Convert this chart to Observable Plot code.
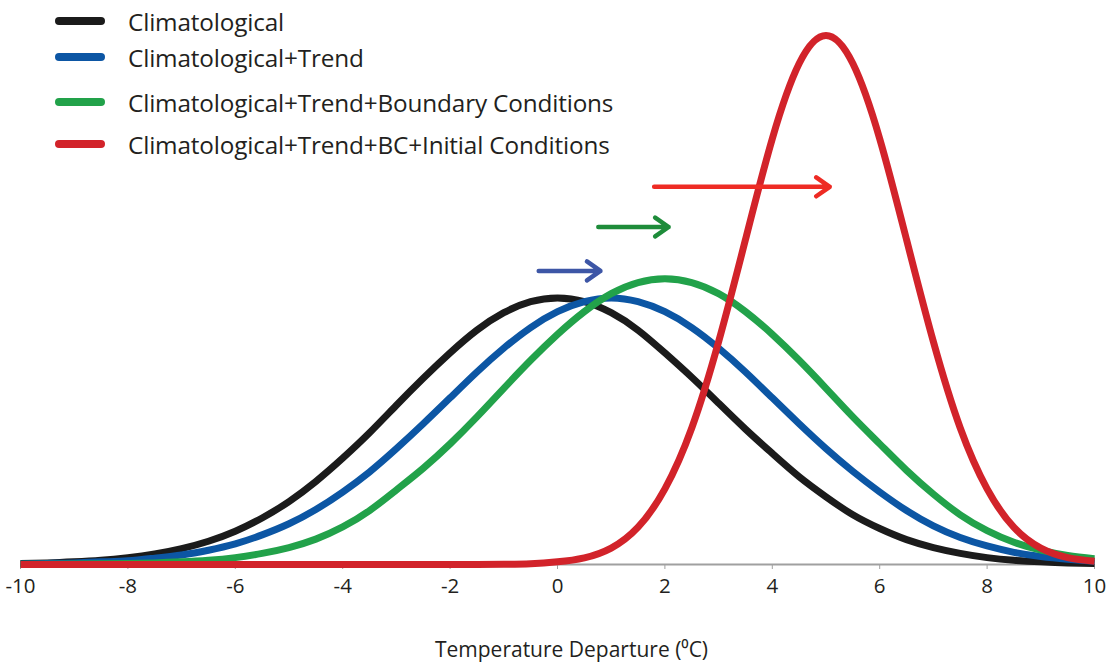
<!DOCTYPE html>
<html>
<head>
<meta charset="utf-8">
<script src="https://cdn.jsdelivr.net/npm/d3@7"></script>
<script src="https://cdn.jsdelivr.net/npm/@observablehq/plot@0.6"></script>
<style>
  body { margin: 0; background: #fff; font-family: "Open Sans", sans-serif; }
  #wrap { position: relative; width: 1112px; height: 664px; }
  .row { position: absolute; left: 55px; display: flex; align-items: center; height: 30px; white-space: nowrap; }
  .sw { width: 50px; height: 8px; border-radius: 4px; }
  .lab { margin-left: 23px; font-size: 24.3px; color: #231f20; letter-spacing: -0.15px; }
</style>
</head>
<body>
<div id="wrap"></div>
<script>
// ---- data ----
const temps = [-10,-9.5,-9,-8.5,-8,-7.5,-7,-6.5,-6,-5.5,-5,-4.5,-4,-3.5,-3,-2.5,-2,-1.5,-1,-0.5,
               0,0.5,1,1.5,2,2.5,3,3.5,4,4.5,5,5.5,6,6.5,7,7.5,8,8.5,9,9.5,10];
const climatological = [0.2,0.3,0.5,0.8,1.3,2.0,3.0,4.4,6.3,8.8,11.9,15.7,20.1,24.9,30.1,35.2,40.0,44.3,47.6,49.7,
                        50.4,49.7,47.6,44.3,40.0,35.4,30.5,25.6,21.0,16.6,12.8,9.4,6.8,4.7,3.2,2.1,1.3,0.8,0.5,0.3,0.2];
const withTrend = [0.1,0.2,0.3,0.5,0.7,1.2,1.8,2.7,3.9,5.6,7.7,10.4,13.7,17.5,21.9,26.6,31.5,36.4,40.9,44.8,
                   47.8,49.7,50.4,49.7,47.8,44.8,40.9,36.4,31.5,26.6,21.9,17.6,13.7,10.2,7.3,5.1,3.5,2.3,1.5,1.0,0.6];
const withBoundary = [0.03,0.05,0.08,0.13,0.2,0.3,0.5,0.8,1.3,2.1,3.2,4.8,7.1,10.2,14.1,18.2,22.8,27.9,33.3,38.6,
                      43.5,47.8,51.2,53.3,54.0,53.3,51.2,47.8,43.5,38.6,33.3,27.9,22.8,17.8,13.3,9.4,6.4,4.2,2.7,1.7,1.1];
const withInitial = [0,0,0,0,0,0,0,0,0,0,0,0,0,0,0,0,0,0.01,0.04,0.14,
                     0.5,1.25,3.1,7.05,14.3,25.8,42.1,61.4,80.5,94.7,100,94.7,80.5,61.4,42.1,25.8,14.3,7.0,3.1,1.3,0.6];

const seriesNames = ["Climatological","Climatological+Trend","Climatological+Trend+Boundary Conditions","Climatological+Trend+BC+Initial Conditions"];
const seriesColors = ["#1b1b1b","#0c56a4","#22a24a","#d2232a"];
const seriesValues = [climatological, withTrend, withBoundary, withInitial];

const arrowFrom = [-0.35, 0.76, 1.8];
const arrowTo = [0.8, 2.07, 5.07];
const arrowLevel = [55.5, 63.8, 71.4];
const arrowColors = ["#3d56a6","#1e8c3a","#ee2b24"];

const xTicks = [-10,-8,-6,-4,-2,0,2,4,6,8,10];
const xTitle = "Temperature Departure (\u2070C)";

// ---- build tables ----
const rows = [];
seriesNames.forEach((name, i) => {
  temps.forEach((t, j) => rows.push({series: name, t, v: seriesValues[i][j]}));
});
const arrows = arrowFrom.map((a, i) => ({x1: a, x2: arrowTo[i], y: arrowLevel[i], c: arrowColors[i]}));

const chart = Plot.plot({
  width: 1112,
  height: 664,
  marginTop: 35,
  marginBottom: 100,
  marginLeft: 20,
  marginRight: 18,
  style: {fontFamily: "Open Sans", background: "#fff"},
  x: {domain: [-10, 10]},
  y: {domain: [0, 100], axis: null},
  color: {domain: seriesNames, range: seriesColors},
  marks: [
    Plot.ruleY([0], {stroke: "#a0a0a0", strokeWidth: 2}),
    Plot.axisX({ticks: xTicks, tickSize: 5, tickPadding: 9, fontSize: 20.5, stroke: "#a0a0a0",
                color: "#231f20", tickFormat: d => String(d), label: null}),
    Plot.line(rows, {x: "t", y: "v", z: "series", stroke: "series", strokeWidth: 7,
                     curve: "natural", strokeLinecap: "butt"}),
    Plot.arrow(arrows, {x1: "x1", x2: "x2", y1: "y", y2: "y", stroke: "c", strokeWidth: 4.5,
                        headLength: 5.5, headAngle: 70}),
    Plot.text([xTitle], {frameAnchor: "bottom", dy: 86, dx: 14, lineAnchor: "middle",
                         fontSize: 21, fill: "#231f20"})
  ]
});

const wrap = document.getElementById("wrap");
wrap.appendChild(chart);

// legend overlay
const legendTops = [6, 42, 87, 129];
seriesNames.forEach((name, i) => {
  const row = document.createElement("div");
  row.className = "row";
  row.style.top = legendTops[i] + "px";
  const sw = document.createElement("div");
  sw.className = "sw";
  sw.style.background = seriesColors[i];
  const lab = document.createElement("span");
  lab.className = "lab";
  lab.textContent = name;
  row.appendChild(sw);
  row.appendChild(lab);
  wrap.appendChild(row);
});
</script>
</body>
</html>
